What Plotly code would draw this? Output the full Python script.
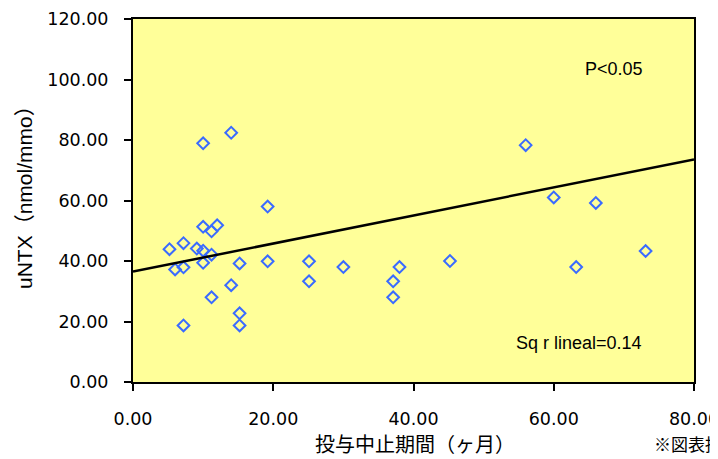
import plotly.graph_objects as go

# Data
months = [5.2, 6.0, 7.2, 7.2, 7.2, 9.1, 10.0, 10.0, 10.0, 10.0, 11.2, 12.0, 11.2, 11.2,
          14.0, 14.0, 15.2, 15.2, 15.2, 19.2, 19.2, 25.1, 25.1, 30.0, 37.1, 37.1, 38.0,
          45.2, 56.0, 60.0, 66.0, 63.2, 73.1]
untx = [43.9, 37.2, 45.9, 37.9, 18.7, 44.1, 78.9, 51.3, 43.4, 39.4, 49.8, 51.8, 42.1, 28.0,
        82.4, 32.0, 39.2, 22.7, 18.7, 58.0, 39.9, 39.9, 33.3, 38.0, 33.3, 28.0, 38.0,
        40.0, 78.3, 61.0, 59.2, 38.0, 43.3]
trend_x = [0, 80]
trend_y = [36.5, 73.6]

x_ticks = [0, 20, 40, 60, 80]
y_ticks = [0, 20, 40, 60, 80, 100, 120]

TICKFONT = "DejaVu Sans, sans-serif"
FONT = "Liberation Sans, Arial, sans-serif"
TITLEFONT = "Liberation Sans, Noto Sans CJK JP, sans-serif"
JPFONT = "Noto Sans CJK JP, sans-serif"

# page offset (browser body margin) compensation
OFF = 8
W, H = 718, 459
L, R, T, B = 133 - OFF, W - (694 - OFF), 19 - OFF, H - (382 - OFF)

fig = go.Figure()
fig.add_trace(go.Scatter(
    x=months, y=untx, mode="markers",
    marker=dict(symbol="diamond-open", size=9, color="#3A6BFF",
                line=dict(color="#3A6BFF", width=2)),
    showlegend=False, cliponaxis=False))
fig.add_trace(go.Scatter(
    x=trend_x, y=trend_y, mode="lines",
    line=dict(color="black", width=2.5), showlegend=False))

axis_common = dict(showgrid=False, zeroline=False, showline=True, mirror=True,
                   linecolor="black", linewidth=2, ticks="outside", ticklen=7,
                   tickwidth=2, tickcolor="black", automargin=False,
                   tickformat=".2f", tickfont=dict(family=TICKFONT, size=17.5))

fig.update_layout(
    template="none",
    width=W, height=H,
    margin=dict(l=L, r=R, t=T, b=B, pad=0),
    paper_bgcolor="white", plot_bgcolor="#FFFF99",
    font=dict(family=FONT, size=18, color="black"),
    xaxis=dict(range=[0, 80], tickvals=x_ticks, ticklabelstandoff=13, **axis_common),
    yaxis=dict(range=[0, 120], tickvals=y_ticks, ticklabelstandoff=12, **axis_common),
)

pw, ph = W - L - R, H - T - B
def px(xp):
    return (xp - OFF - L) / pw
def py(yp):
    return (H - B - (yp - OFF)) / ph

texts = [
    ("P<0.05", 614, 69, "center", 0, FONT, 18),
    ("Sq r lineal=0.14", 579, 343, "center", 0, FONT, 18),
    ("uNTX（nmol/mmo）", 24, 192, "center", -90, TITLEFONT, 21),
    ("投与中止期間（ヶ月）", 415, 443, "center", 0, JPFONT, 20),
    ("※図表掲載", 652, 443, "left", 0, JPFONT, 17),
]
for t, xp, yp, anc, ang, fam, sz in texts:
    fig.add_annotation(text=t, x=px(xp), y=py(yp), xref="paper", yref="paper",
                       xanchor=anc, yanchor="middle", textangle=ang,
                       showarrow=False, font=dict(family=fam, size=sz, color="black"))

fig.write_html("out.html")
